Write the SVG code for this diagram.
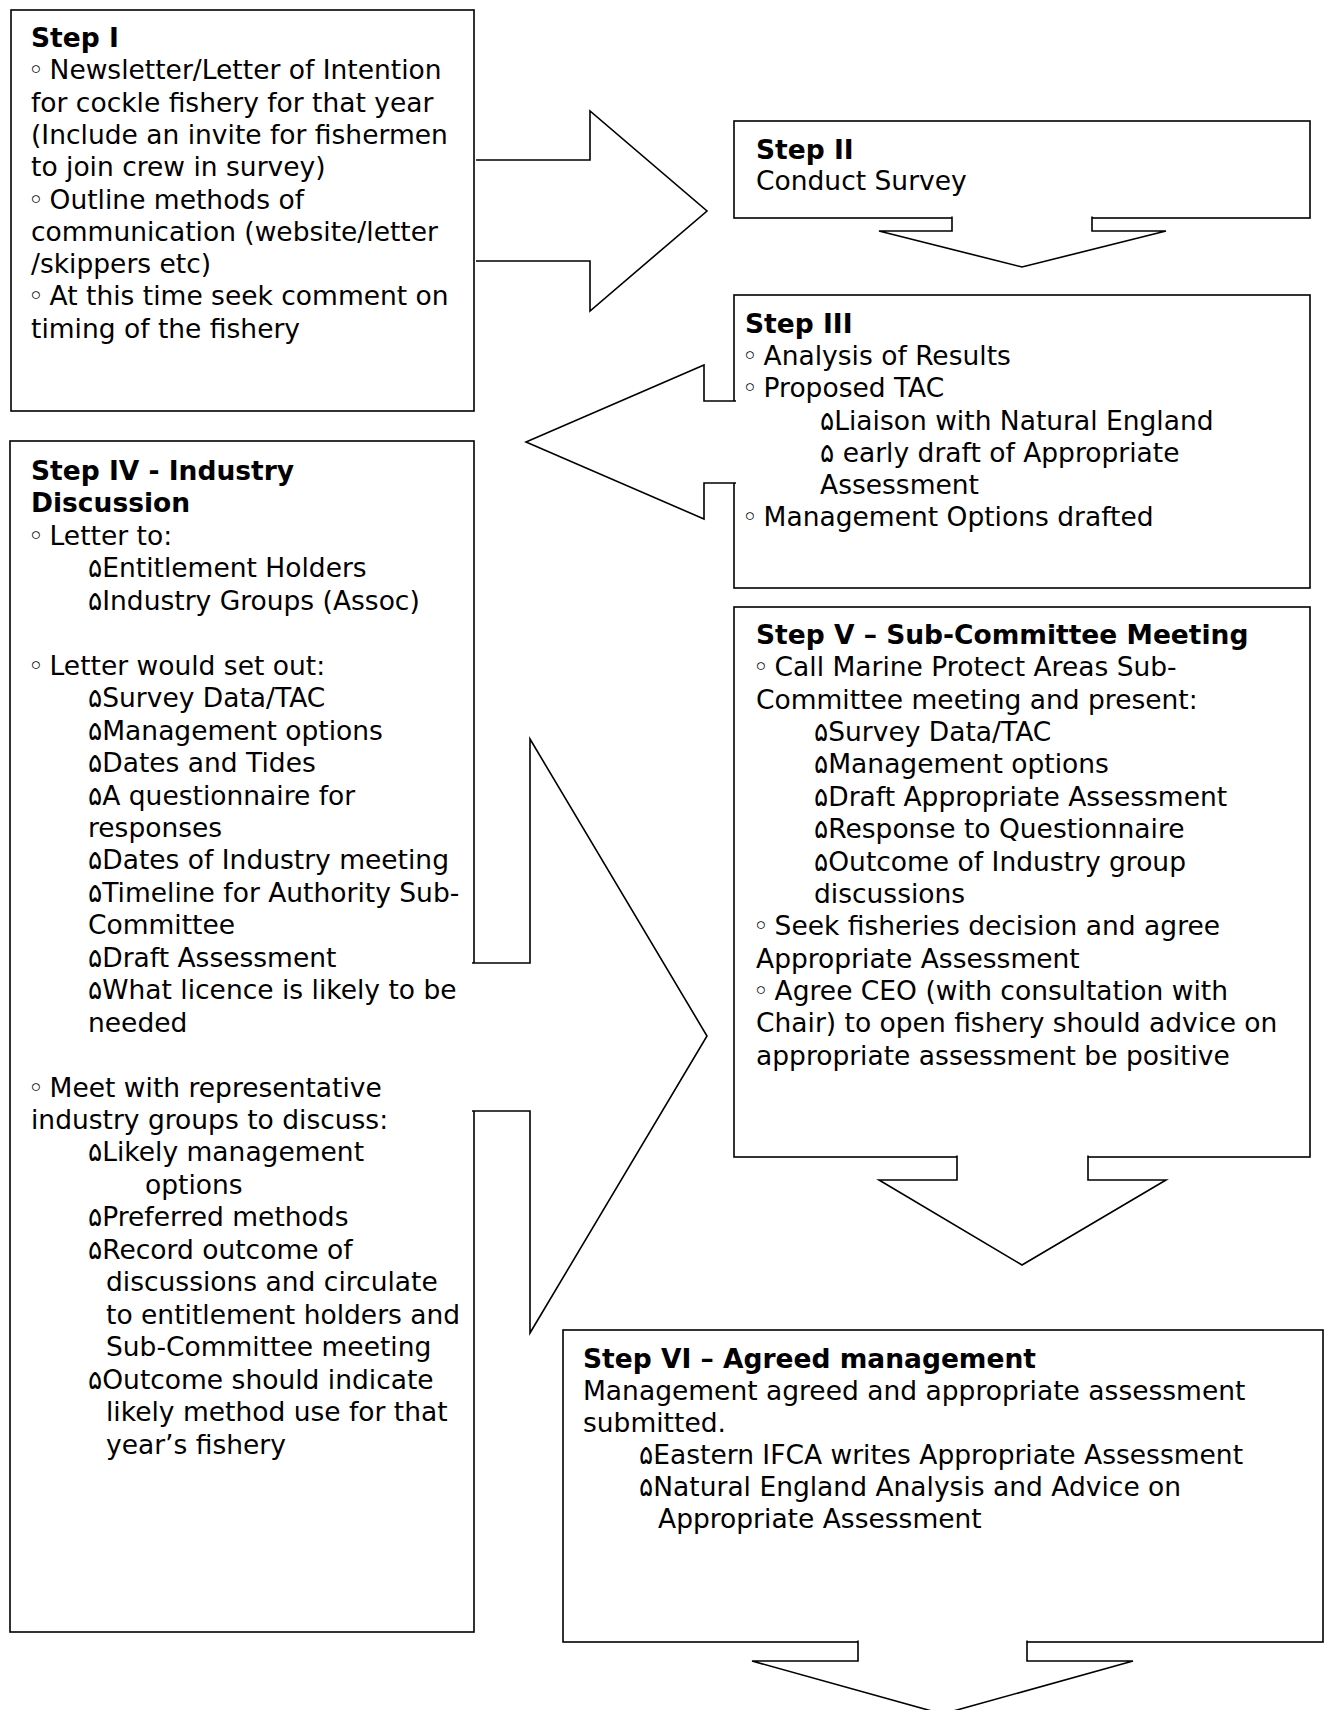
<svg xmlns="http://www.w3.org/2000/svg" width="1329" height="1710" viewBox="0 0 1329 1710">
<style>
  .box { fill: #ffffff; stroke: #000000; stroke-width: 1.6; }
  .arrow { fill: #ffffff; stroke: #000000; stroke-width: 1.6; stroke-linejoin: miter; }
  text { font-family: "DejaVu Sans", Verdana, sans-serif; font-size: 26.5px; fill: #000000; }
  .t { font-weight: bold; }
</style>
<rect x="0" y="0" width="1329" height="1710" fill="#ffffff"/>

<g id="step1">
  <rect class="box" x="11" y="10" width="463" height="401"/>
  <text x="31" y="47" class="t">Step I</text>
  <text x="28" y="79.3">◦<tspan dx="-2.5"> Newsletter/Letter of Intention</tspan></text>
  <text x="31" y="111.6">for cockle fishery for that year</text>
  <text x="31" y="143.9">(Include an invite for fishermen</text>
  <text x="31" y="176.2">to join crew in survey)</text>
  <text x="28" y="208.5">◦<tspan dx="-2.5"> Outline methods of</tspan></text>
  <text x="31" y="240.8">communication (website/letter</text>
  <text x="31" y="273.1">/skippers etc)</text>
  <text x="28" y="305.4">◦<tspan dx="-2.5"> At this time seek comment on</tspan></text>
  <text x="31" y="337.7">timing of the fishery</text>
</g>

<g id="step2">
  <rect class="box" x="734" y="121" width="576" height="97"/>
  <text x="756" y="158.5" class="t">Step II</text>
  <text x="756" y="190">Conduct Survey</text>
</g>

<g id="step3">
  <rect class="box" x="734" y="295" width="576" height="293"/>
  <text x="745" y="333" class="t">Step III</text>
  <text x="742" y="365.2">◦<tspan dx="-2.5"> Analysis of Results</tspan></text>
  <text x="742" y="397.3">◦<tspan dx="-2.5"> Proposed TAC</tspan></text>
  <text x="820" y="429.5">۵Liaison with Natural England</text>
  <text x="820" y="461.7">۵ early draft of Appropriate</text>
  <text x="820" y="493.9">Assessment</text>
  <text x="742" y="526">◦<tspan dx="-2.5"> Management Options drafted</tspan></text>
</g>

<g id="step4">
  <rect class="box" x="10" y="441" width="464" height="1191"/>
  <text x="31" y="480" class="t">Step IV - Industry</text>
  <text x="31" y="512.45" class="t">Discussion</text>
  <text x="28" y="544.9">◦<tspan dx="-2.5"> Letter to:</tspan></text>
  <text x="88" y="577.35">۵Entitlement Holders</text>
  <text x="88" y="609.8">۵Industry Groups (Assoc)</text>
  <text x="28" y="674.7">◦<tspan dx="-2.5"> Letter would set out:</tspan></text>
  <text x="88" y="707.15">۵Survey Data/TAC</text>
  <text x="88" y="739.6">۵Management options</text>
  <text x="88" y="772.05">۵Dates and Tides</text>
  <text x="88" y="804.5">۵A questionnaire for</text>
  <text x="88" y="836.95">responses</text>
  <text x="88" y="869.4">۵Dates of Industry meeting</text>
  <text x="88" y="901.85">۵Timeline for Authority Sub-</text>
  <text x="88" y="934.3">Committee</text>
  <text x="88" y="966.75">۵Draft Assessment</text>
  <text x="88" y="999.2">۵What licence is likely to be</text>
  <text x="88" y="1031.65">needed</text>
  <text x="28" y="1096.55">◦<tspan dx="-2.5"> Meet with representative</tspan></text>
  <text x="31" y="1129">industry groups to discuss:</text>
  <text x="88" y="1161.45">۵Likely management</text>
  <text x="145" y="1193.9">options</text>
  <text x="88" y="1226.35">۵Preferred methods</text>
  <text x="88" y="1258.8">۵Record outcome of</text>
  <text x="106" y="1291.25">discussions and circulate</text>
  <text x="106" y="1323.7">to entitlement holders and</text>
  <text x="106" y="1356.15">Sub-Committee meeting</text>
  <text x="88" y="1388.6">۵Outcome should indicate</text>
  <text x="106" y="1421.05">likely method use for that</text>
  <text x="106" y="1453.5">year’s fishery</text>
</g>

<g id="step5">
  <rect class="box" x="734" y="607" width="576" height="550"/>
  <text x="756" y="644" class="t">Step V – Sub-Committee Meeting</text>
  <text x="753" y="676.37">◦<tspan dx="-2.5"> Call Marine Protect Areas Sub-</tspan></text>
  <text x="756" y="708.74">Committee meeting and present:</text>
  <text x="814" y="741.11">۵Survey Data/TAC</text>
  <text x="814" y="773.48">۵Management options</text>
  <text x="814" y="805.85">۵Draft Appropriate Assessment</text>
  <text x="814" y="838.22">۵Response to Questionnaire</text>
  <text x="814" y="870.59">۵Outcome of Industry group</text>
  <text x="814" y="902.96">discussions</text>
  <text x="753" y="935.33">◦<tspan dx="-2.5"> Seek fisheries decision and agree</tspan></text>
  <text x="756" y="967.7">Appropriate Assessment</text>
  <text x="753" y="1000.07">◦<tspan dx="-2.5"> Agree CEO (with consultation with</tspan></text>
  <text x="756" y="1032.44">Chair) to open fishery should advice on</text>
  <text x="756" y="1064.81">appropriate assessment be positive</text>
</g>

<g id="step6">
  <rect class="box" x="563" y="1330" width="760" height="312"/>
  <text x="583" y="1368" class="t">Step VI – Agreed management</text>
  <text x="583" y="1400">Management agreed and appropriate assessment</text>
  <text x="583" y="1432">submitted.</text>
  <text x="639" y="1464">۵Eastern IFCA writes Appropriate Assessment</text>
  <text x="639" y="1496">۵Natural England Analysis and Advice on</text>
  <text x="658" y="1528">Appropriate Assessment</text>
</g>

<g id="connectors">
  <polyline id="arrow-1-2" class="arrow" points="476,160 590,160 590,111 707,211 590,311 590,261 476,261"/>
  <polyline id="arrow-2-3" class="arrow" points="952,216.5 952,231 879,231 1022,267 1166,231 1092,231 1092,216.5"/>
  <polyline id="arrow-3-4" class="arrow" points="736,401 704,401 704,365 526,442 704,519 704,483 736,483"/>
  <polyline id="arrow-4-5" class="arrow" points="472,963 530,963 530,739 707,1036 530,1333 530,1111 472,1111"/>
  <polyline id="arrow-5-6" class="arrow" points="957,1155.5 957,1180 879,1180 1022,1265 1166,1180 1088,1180 1088,1155.5"/>
  <polyline id="arrow-6-out" class="arrow" points="858,1640.5 858,1661 752,1661 942.5,1714 1133,1661 1027,1661 1027,1640.5"/>
</g>
</svg>
